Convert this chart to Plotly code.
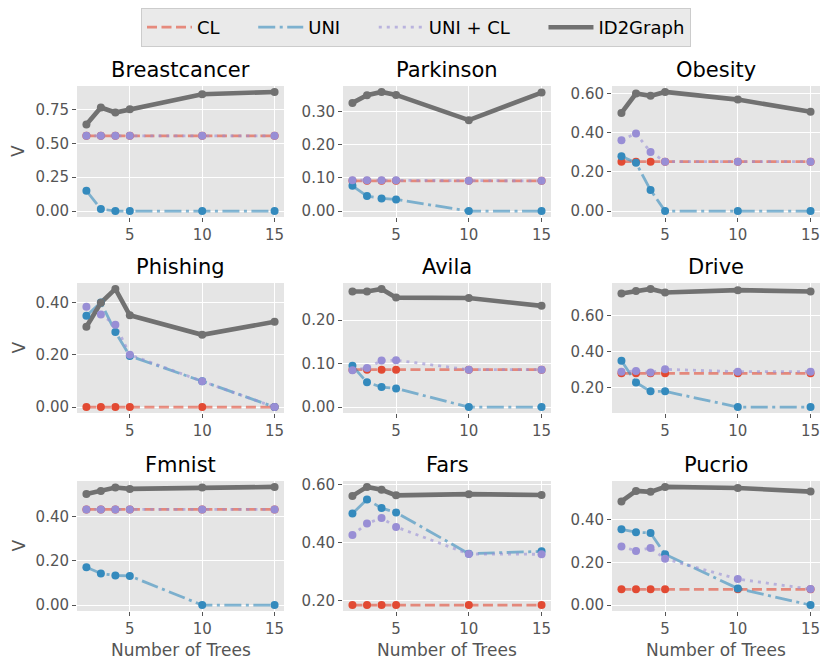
import plotly.graph_objects as go

W, H = 831, 670

# ---------------- data ----------------
n_trees = [2, 3, 4, 5, 10, 15]
datasets = ["Breastcancer", "Parkinson", "Obesity",
            "Phishing", "Avila", "Drive",
            "Fmnist", "Fars", "Pucrio"]
series_names = ["CL", "UNI", "UNI + CL", "ID2Graph"]

breastcancer_cl = [0.556, 0.556, 0.556, 0.556, 0.556, 0.556]
breastcancer_uni = [0.150, 0.015, 0.0, 0.0, 0.0, 0.0]
breastcancer_unicl = [0.556, 0.556, 0.556, 0.556, 0.556, 0.556]
breastcancer_id2g = [0.639, 0.765, 0.728, 0.752, 0.863, 0.880]

parkinson_cl = [0.091, 0.091, 0.091, 0.091, 0.091, 0.091]
parkinson_uni = [0.076, 0.045, 0.038, 0.035, 0.0, 0.0]
parkinson_unicl = [0.093, 0.093, 0.093, 0.093, 0.091, 0.091]
parkinson_id2g = [0.326, 0.349, 0.359, 0.350, 0.274, 0.357]

obesity_cl = [0.252, 0.252, 0.252, 0.252, 0.252, 0.252]
obesity_uni = [0.280, 0.246, 0.107, 0.0, 0.0, 0.0]
obesity_unicl = [0.362, 0.396, 0.301, 0.252, 0.252, 0.252]
obesity_id2g = [0.501, 0.600, 0.588, 0.608, 0.569, 0.507]

phishing_cl = [0.0, 0.0, 0.0, 0.0, 0.0, 0.0]
phishing_uni = [0.350, 0.401, 0.288, 0.196, 0.099, 0.0]
phishing_unicl = [0.385, 0.355, 0.316, 0.201, 0.099, 0.0]
phishing_id2g = [0.308, 0.400, 0.453, 0.352, 0.277, 0.327]

avila_cl = [0.086, 0.086, 0.086, 0.086, 0.086, 0.086]
avila_uni = [0.095, 0.057, 0.046, 0.043, 0.0, 0.0]
avila_unicl = [0.085, 0.090, 0.107, 0.108, 0.086, 0.086]
avila_id2g = [0.266, 0.266, 0.272, 0.252, 0.251, 0.233]

drive_cl = [0.280, 0.280, 0.280, 0.280, 0.280, 0.280]
drive_uni = [0.349, 0.229, 0.180, 0.180, 0.093, 0.093]
drive_unicl = [0.289, 0.293, 0.284, 0.302, 0.289, 0.289]
drive_id2g = [0.722, 0.735, 0.747, 0.727, 0.740, 0.733]

fmnist_cl = [0.433, 0.433, 0.433, 0.433, 0.433, 0.433]
fmnist_uni = [0.171, 0.143, 0.134, 0.132, 0.0, 0.0]
fmnist_unicl = [0.433, 0.433, 0.433, 0.433, 0.433, 0.433]
fmnist_id2g = [0.503, 0.517, 0.532, 0.526, 0.532, 0.535]

fars_cl = [0.185, 0.185, 0.185, 0.185, 0.185, 0.185]
fars_uni = [0.500, 0.549, 0.519, 0.504, 0.362, 0.370]
fars_unicl = [0.426, 0.466, 0.485, 0.454, 0.361, 0.360]
fars_id2g = [0.561, 0.592, 0.582, 0.563, 0.567, 0.564]

pucrio_cl = [0.074, 0.074, 0.074, 0.074, 0.074, 0.074]
pucrio_uni = [0.355, 0.342, 0.338, 0.238, 0.078, 0.0]
pucrio_unicl = [0.275, 0.254, 0.268, 0.217, 0.122, 0.075]
pucrio_id2g = [0.486, 0.535, 0.531, 0.554, 0.549, 0.532]

x_tickvals = [5, 10, 15]
breastcancer_yticks = [0.0, 0.25, 0.5, 0.75]
parkinson_yticks = [0.0, 0.1, 0.2, 0.3]
obesity_yticks = [0.0, 0.2, 0.4, 0.6]
phishing_yticks = [0.0, 0.2, 0.4]
avila_yticks = [0.0, 0.1, 0.2]
drive_yticks = [0.2, 0.4, 0.6]
fmnist_yticks = [0.0, 0.2, 0.4]
fars_yticks = [0.2, 0.4, 0.6]
pucrio_yticks = [0.0, 0.2, 0.4]

x_label = "Number of Trees"
y_label = "V"

panel_series = [
    [breastcancer_cl, breastcancer_uni, breastcancer_unicl, breastcancer_id2g],
    [parkinson_cl, parkinson_uni, parkinson_unicl, parkinson_id2g],
    [obesity_cl, obesity_uni, obesity_unicl, obesity_id2g],
    [phishing_cl, phishing_uni, phishing_unicl, phishing_id2g],
    [avila_cl, avila_uni, avila_unicl, avila_id2g],
    [drive_cl, drive_uni, drive_unicl, drive_id2g],
    [fmnist_cl, fmnist_uni, fmnist_unicl, fmnist_id2g],
    [fars_cl, fars_uni, fars_unicl, fars_id2g],
    [pucrio_cl, pucrio_uni, pucrio_unicl, pucrio_id2g],
]
panel_yticks = [breastcancer_yticks, parkinson_yticks, obesity_yticks,
                phishing_yticks, avila_yticks, drive_yticks,
                fmnist_yticks, fars_yticks, pucrio_yticks]

# ---------------- styles ----------------
line_colors = ["rgba(226,74,51,0.6)", "rgba(52,138,189,0.6)",
               "rgba(152,142,213,0.6)", "#717171"]
marker_colors = ["#E24A33", "#348ABD", "#988ED5", "#717171"]
dashes = ["10px,4.5px", "17px,4.5px,3px,4.5px", "3px,5px", "solid"]
widths = [2.8, 2.8, 2.8, 4.6]
marker_sizes = [8, 8, 8, 8]
legend_pad = ["\u00a0" * 5, "\u00a0" * 5, "\u00a0" * 5, ""]

col_px = [(77, 284), (343, 551), (612, 820)]
row_px = [(86, 217), (283, 413), (481, 611)]

FONT = "DejaVu Sans"
fig = go.Figure()
annotations = []

for i, name in enumerate(datasets):
    r, c = divmod(i, 3)
    k = i + 1
    xa = "x" if k == 1 else f"x{k}"
    ya = "y" if k == 1 else f"y{k}"
    series = panel_series[i]
    for s in range(4):
        fig.add_trace(go.Scatter(
            x=n_trees, y=series[s], mode="lines", name=series_names[s] + legend_pad[s],
            line=dict(color=line_colors[s], width=widths[s], dash=dashes[s]),
            showlegend=(i == 0),
            xaxis=xa, yaxis=ya, hoverinfo="skip"))
    for s in range(4):
        fig.add_trace(go.Scatter(
            x=n_trees, y=series[s], mode="markers", name=series_names[s],
            marker=dict(color=marker_colors[s], size=marker_sizes[s], line=dict(width=0)),
            showlegend=False,
            xaxis=xa, yaxis=ya))

    allv = [v for sr in series for v in sr]
    lo, hi = min(allv), max(allv)
    pad = (hi - lo) * 0.05
    x0, x1 = col_px[c]
    yt, yb = row_px[r]
    xdom = [x0 / W, x1 / W]
    ydom = [1 - yb / H, 1 - yt / H]
    xkey = "xaxis" if k == 1 else f"xaxis{k}"
    ykey = "yaxis" if k == 1 else f"yaxis{k}"
    xspan = n_trees[-1] - n_trees[0]
    fig.layout[xkey] = dict(
        domain=xdom, anchor=ya, automargin=False,
        range=[n_trees[0] - 0.05 * xspan, n_trees[-1] + 0.05 * xspan],
        tickvals=x_tickvals, ticks="outside", ticklen=4, tickcolor="#555555",
        showgrid=True, gridcolor="white", gridwidth=1.2, zeroline=False, showline=False,
        tickfont=dict(family=FONT, size=15, color="#555555"),
    )
    fig.layout[ykey] = dict(
        domain=ydom, anchor=xa, automargin=False, range=[lo - pad, hi + pad],
        tickvals=panel_yticks[i], tickformat=".2f", ticks="outside", ticklen=4, tickcolor="#555555",
        showgrid=True, gridcolor="white", gridwidth=1.2, zeroline=False, showline=False,
        tickfont=dict(family=FONT, size=15, color="#555555"),
    )
    annotations.append(dict(
        text=name, x=(x0 + x1) / 2 / W, y=1 - yt / H, xref="paper", yref="paper",
        xanchor="center", yanchor="bottom", yshift=2, showarrow=False,
        font=dict(family=FONT, size=21, color="black")))
    if r == 2:
        annotations.append(dict(
            text=x_label, x=(x0 + x1) / 2 / W, y=1 - 650 / H, xref="paper", yref="paper",
            xanchor="center", yanchor="middle", showarrow=False,
            font=dict(family=FONT, size=17, color="#555555")))
    if c == 0:
        annotations.append(dict(
            text=y_label, x=18.5 / W, y=1 - (yt + yb) / 2 / H, xref="paper", yref="paper",
            xanchor="center", yanchor="middle", showarrow=False, textangle=-90,
            font=dict(family=FONT, size=17, color="#555555")))

fig.update_layout(
    width=W, height=H,
    margin=dict(l=0, r=0, t=0, b=0, autoexpand=False),
    paper_bgcolor="white", plot_bgcolor="#E5E5E5",
    font=dict(family=FONT),
    annotations=annotations,
    legend=dict(
        orientation="h", x=416 / W, xanchor="center", y=1 - 8 / H, yanchor="top",
        bgcolor="#EAEAEA", bordercolor="#CCCCCC", borderwidth=1,
        font=dict(family=FONT, size=18, color="black"),
        itemwidth=45,
    ),
)

fig.write_html("out.html", config={"displayModeBar": False},
               post_script="document.body.style.margin='0px';")
